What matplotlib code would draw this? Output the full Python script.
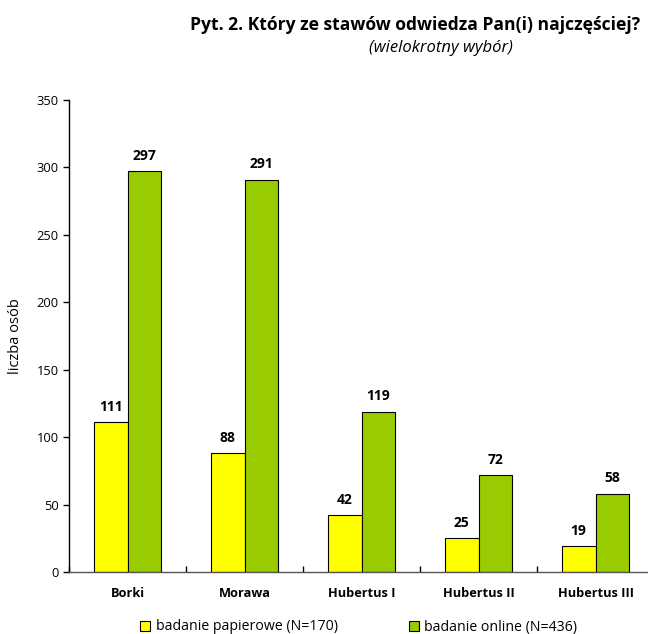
import matplotlib
matplotlib.use("Agg")
import matplotlib.pyplot as plt
import numpy as np
from matplotlib.patches import Patch

categories = ["Borki", "Morawa", "Hubertus I", "Hubertus II", "Hubertus III"]
paper = [111, 88, 42, 25, 19]
online = [297, 291, 119, 72, 58]
series_names = ["badanie papierowe (N=170)", "badanie online (N=436)"]
colors = ["#FFFF00", "#99CC00"]

plt.rcParams['font.family'] = ['Open Sans', 'DejaVu Sans']

W, H = 648, 634
fig = plt.figure(figsize=(W/100, H/100), dpi=100)
ax = fig.add_axes([69/W, 1-572/H, 585/W, 472/H])

x = np.arange(len(categories))
w = 0.29
b1 = ax.bar(x - w/2, paper, w, color=colors[0], edgecolor="black", linewidth=0.8)
b2 = ax.bar(x + w/2, online, w, color=colors[1], edgecolor="black", linewidth=0.8)
for bars, vals in ((b1, paper), (b2, online)):
    for r, v in zip(bars, vals):
        ax.annotate(str(v), (r.get_x() + r.get_width()/2, v), xytext=(0, 6),
                    textcoords="offset points", ha="center", va="bottom",
                    fontsize=10, fontweight="bold")

ax.set_xlim(-0.5, len(categories) - 0.5)
ax.set_ylim(0, 350)
ax.set_yticks(range(0, 351, 50))
ax.tick_params(axis='y', labelsize=9.3, length=4, direction='out', width=1)
ax.set_xticks(np.arange(-0.5, len(categories), 1.0))
ax.set_xticklabels([])
ax.tick_params(axis='x', length=4, direction='in', width=1)
ax.set_xticks(x, minor=True)
ax.set_xticklabels(categories, minor=True, fontsize=9.2, fontweight="bold")
ax.tick_params(axis='x', which='minor', length=0, pad=11)
for s in ("top", "right"):
    ax.spines[s].set_visible(False)
ax.spines["left"].set_linewidth(1)
ax.spines["bottom"].set_linewidth(1)
ax.spines["bottom"].set_color("#555555")
ax.set_ylabel("liczba osób", fontsize=10.5, labelpad=10)

fig.text(415/W, 1-25/H, "Pyt. 2. Który ze stawów odwiedza Pan(i) najczęściej?",
         ha="center", va="center", fontsize=12.6, fontweight="bold")
fig.text(441/W, 1-48/H, "(wielokrotny wybór)", ha="center", va="center",
         fontsize=12, style="italic")

handles = [Patch(facecolor=c, edgecolor="black", linewidth=0.8) for c in colors]
fig.legend(handles, series_names, loc="center", bbox_to_anchor=(359/W, 1-627/H),
           ncol=2, frameon=False, fontsize=10.2, handlelength=0.7, handleheight=0.7,
           handletextpad=0.4, columnspacing=5.0)

fig.savefig("out.png", dpi=100)
